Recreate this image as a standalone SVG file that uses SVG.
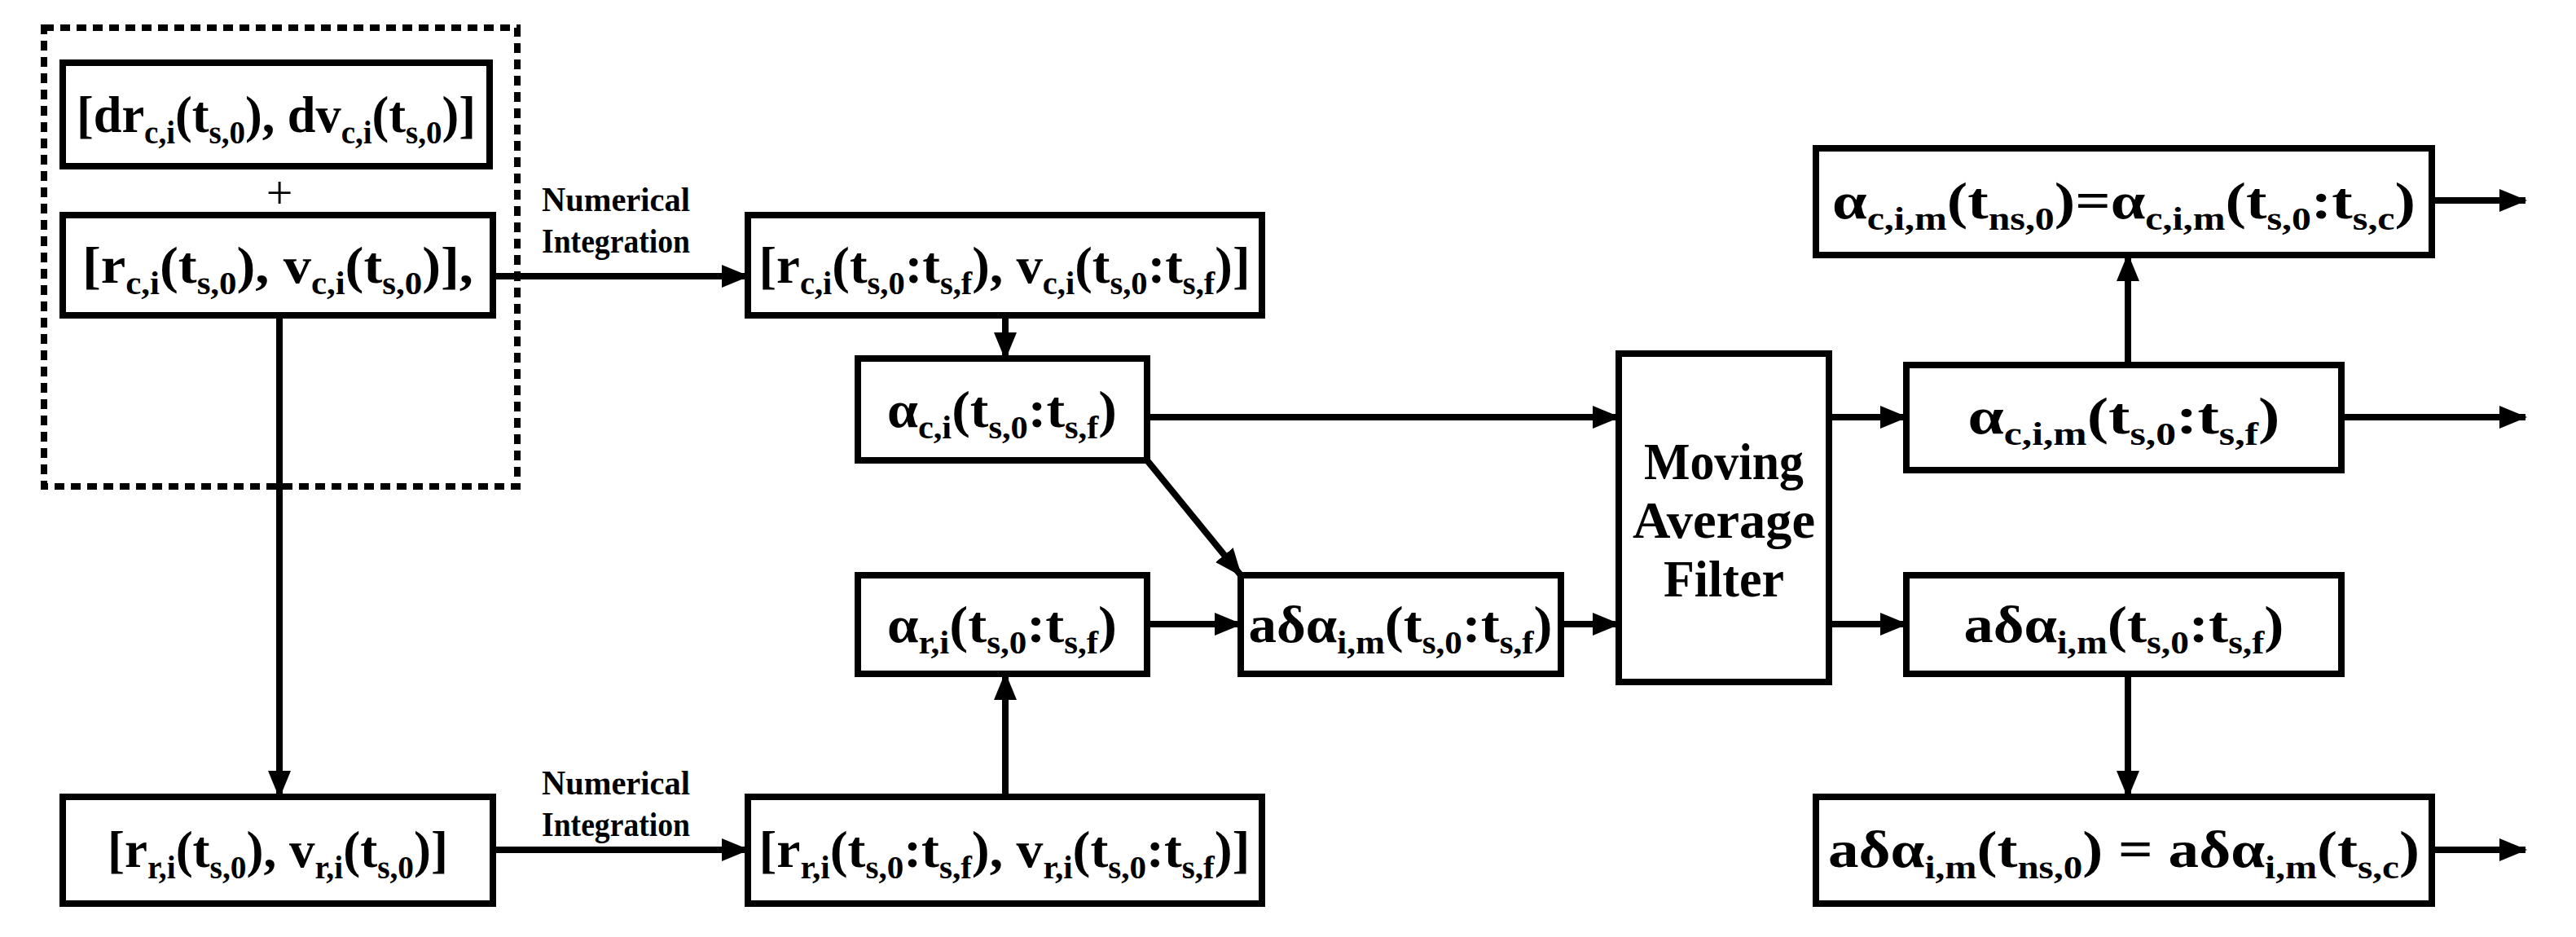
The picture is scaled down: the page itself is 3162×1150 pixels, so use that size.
<svg xmlns="http://www.w3.org/2000/svg" width="3162" height="1150" viewBox="0 0 3162 1150">
<style>
.b{fill:#fff;stroke:#000;stroke-width:8}
.t{font-family:"Liberation Serif",serif;font-weight:bold;font-size:64px;text-anchor:middle}
.s{font-size:40px;baseline-shift:-14px}
.l{font-family:"Liberation Serif",serif;font-weight:bold;font-size:42px;text-anchor:middle}
.c{fill:none;stroke:#000;stroke-width:8}
</style>
<defs><marker id="a" markerUnits="userSpaceOnUse" markerWidth="34" markerHeight="28" refX="32" refY="14" orient="auto"><path d="M0,0 L34,14 L0,28 Z"/></marker></defs>
<rect x="54" y="34" width="581" height="563" fill="none" stroke="#000" stroke-width="8" stroke-dasharray="12,8"/>
<g id="n1"><rect class="b" x="77" y="77" width="524" height="127"/><text class="t" x="339" y="162" textLength="490" lengthAdjust="spacingAndGlyphs">[dr<tspan class="s">c,i</tspan>(t<tspan class="s">s,0</tspan>), dv<tspan class="s">c,i</tspan>(t<tspan class="s">s,0</tspan>)]</text></g>
<text x="343" y="256" font-family="Liberation Serif,serif" font-size="58" text-anchor="middle">+</text>
<g id="n2"><rect class="b" x="77" y="264" width="528" height="123"/><text class="t" x="341" y="347" textLength="480" lengthAdjust="spacingAndGlyphs">[r<tspan class="s">c,i</tspan>(t<tspan class="s">s,0</tspan>), v<tspan class="s">c,i</tspan>(t<tspan class="s">s,0</tspan>)],</text></g>
<g id="n3"><rect class="b" x="918" y="264" width="631" height="123"/><text class="t" x="1233" y="347" textLength="603" lengthAdjust="spacingAndGlyphs">[r<tspan class="s">c,i</tspan>(t<tspan class="s">s,0</tspan>:t<tspan class="s">s,f</tspan>), v<tspan class="s">c,i</tspan>(t<tspan class="s">s,0</tspan>:t<tspan class="s">s,f</tspan>)]</text></g>
<g id="n4"><rect class="b" x="1053" y="440" width="355" height="125"/><text class="t" x="1230" y="524" textLength="282" lengthAdjust="spacingAndGlyphs">α<tspan class="s">c,i</tspan>(t<tspan class="s">s,0</tspan>:t<tspan class="s">s,f</tspan>)</text></g>
<g id="n5"><rect class="b" x="1053" y="706" width="355" height="121"/><text class="t" x="1230" y="788" textLength="282" lengthAdjust="spacingAndGlyphs">α<tspan class="s">r,i</tspan>(t<tspan class="s">s,0</tspan>:t<tspan class="s">s,f</tspan>)</text></g>
<g id="n6"><rect class="b" x="1523" y="706" width="393" height="121"/><text class="t" x="1719" y="788" textLength="373" lengthAdjust="spacingAndGlyphs">aδα<tspan class="s">i,m</tspan>(t<tspan class="s">s,0</tspan>:t<tspan class="s">s,f</tspan>)</text></g>
<g id="n7"><rect class="b" x="77" y="978" width="528" height="131"/><text class="t" x="341" y="1064" textLength="418" lengthAdjust="spacingAndGlyphs">[r<tspan class="s">r,i</tspan>(t<tspan class="s">s,0</tspan>), v<tspan class="s">r,i</tspan>(t<tspan class="s">s,0</tspan>)]</text></g>
<g id="n8"><rect class="b" x="918" y="978" width="631" height="131"/><text class="t" x="1233" y="1064" textLength="603" lengthAdjust="spacingAndGlyphs">[r<tspan class="s">r,i</tspan>(t<tspan class="s">s,0</tspan>:t<tspan class="s">s,f</tspan>), v<tspan class="s">r,i</tspan>(t<tspan class="s">s,0</tspan>:t<tspan class="s">s,f</tspan>)]</text></g>
<g id="n9"><rect class="b" x="1987" y="434" width="258" height="403"/><text class="t" x="2116" y="588" font-size="72" textLength="196" lengthAdjust="spacingAndGlyphs">Moving</text><text class="t" x="2116" y="660" font-size="72" textLength="224" lengthAdjust="spacingAndGlyphs">Average</text><text class="t" x="2116" y="732" font-size="72" textLength="148" lengthAdjust="spacingAndGlyphs">Filter</text></g>
<g id="n10"><rect class="b" x="2229" y="182" width="756" height="131"/><text class="t" x="2607" y="268" textLength="716" lengthAdjust="spacingAndGlyphs">α<tspan class="s">c,i,m</tspan>(t<tspan class="s">ns,0</tspan>)=α<tspan class="s">c,i,m</tspan>(t<tspan class="s">s,0</tspan>:t<tspan class="s">s,c</tspan>)</text></g>
<g id="n11"><rect class="b" x="2340" y="448" width="534" height="129"/><text class="t" x="2607" y="532" textLength="383" lengthAdjust="spacingAndGlyphs">α<tspan class="s">c,i,m</tspan>(t<tspan class="s">s,0</tspan>:t<tspan class="s">s,f</tspan>)</text></g>
<g id="n12"><rect class="b" x="2340" y="706" width="534" height="121"/><text class="t" x="2607" y="788" textLength="393" lengthAdjust="spacingAndGlyphs">aδα<tspan class="s">i,m</tspan>(t<tspan class="s">s,0</tspan>:t<tspan class="s">s,f</tspan>)</text></g>
<g id="n13"><rect class="b" x="2229" y="978" width="756" height="131"/><text class="t" x="2607" y="1064" textLength="726" lengthAdjust="spacingAndGlyphs">aδα<tspan class="s">i,m</tspan>(t<tspan class="s">ns,0</tspan>) = aδα<tspan class="s">i,m</tspan>(t<tspan class="s">s,c</tspan>)</text></g>
<g id="connectors">
<path class="c" marker-end="url(#a)" d="M605,339 H918"/>
<path class="c" marker-end="url(#a)" d="M343,387 V978"/>
<path class="c" marker-end="url(#a)" d="M605,1043 H918"/>
<path class="c" marker-end="url(#a)" d="M1234,387 V440"/>
<path class="c" marker-end="url(#a)" d="M1234,978 V827"/>
<path class="c" marker-end="url(#a)" d="M1408,512 H1987"/>
<path class="c" marker-end="url(#a)" d="M1408,565 L1523,706"/>
<path class="c" marker-end="url(#a)" d="M1408,766 H1523"/>
<path class="c" marker-end="url(#a)" d="M1916,766 H1987"/>
<path class="c" marker-end="url(#a)" d="M2245,512 H2340"/>
<path class="c" marker-end="url(#a)" d="M2245,766 H2340"/>
<path class="c" marker-end="url(#a)" d="M2612,448 V313"/>
<path class="c" marker-end="url(#a)" d="M2612,827 V978"/>
<path class="c" marker-end="url(#a)" d="M2985,246 H3100"/>
<path class="c" marker-end="url(#a)" d="M2874,512 H3100"/>
<path class="c" marker-end="url(#a)" d="M2985,1043 H3100"/>
<text class="l" x="756" y="259" textLength="182" lengthAdjust="spacingAndGlyphs">Numerical</text><text class="l" x="756" y="310" textLength="182" lengthAdjust="spacingAndGlyphs">Integration</text>
<text class="l" x="756" y="975" textLength="182" lengthAdjust="spacingAndGlyphs">Numerical</text><text class="l" x="756" y="1026" textLength="182" lengthAdjust="spacingAndGlyphs">Integration</text>
</g>
</svg>
